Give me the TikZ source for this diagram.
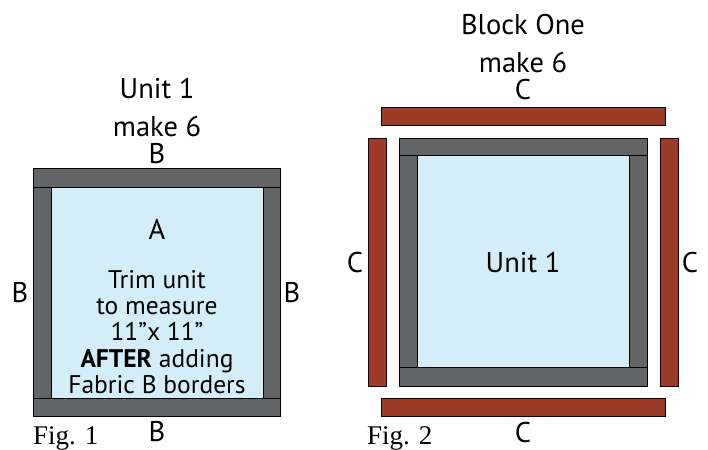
\documentclass[tikz,border=0pt]{standalone}
\usepackage{fontspec}
\setmainfont{PT Sans}
\newfontfamily\figfont{Liberation Serif}
\definecolor{fabricgrey}{RGB}{99,100,102}
\definecolor{fabricblue}{RGB}{212,238,249}
\definecolor{fabricrust}{RGB}{156,59,38}

\begin{document}
\begin{tikzpicture}[x=1pt, y=-1pt,
    patchA/.style={fill=fabricblue, draw=black, line width=0.9pt},
    patchB/.style={fill=fabricgrey, draw=black, line width=0.9pt},
    patchC/.style={fill=fabricrust, draw=black, line width=0.9pt},
    lbl/.style={font=\fontsize{28.5}{30}\selectfont, anchor=base, inner sep=0pt},
    note/.style={font=\fontsize{25.5}{26.3}\selectfont, align=center, inner sep=0pt},
    figlbl/.style={font=\figfont\fontsize{27}{30}\selectfont, anchor=base west, inner sep=0pt}]
    \useasboundingbox (0,0) rectangle (708,449);

    % Unit 1: centre square with B borders
    \fill[patchA] (51,187) rectangle (263,398);
    \draw[patchB] (33,168) rectangle (280,187);
    \draw[patchB] (33,398) rectangle (280,416);
    \draw[patchB] (33,187) rectangle (51,398);
    \draw[patchB] (263,187) rectangle (280,398);
    \draw[black, line width=0.9pt] (51,187) rectangle (263,398);

    \node[lbl] (unitT) at (157,99) {Unit 1};
    \node[lbl] (unitM) at (157,136) {make 6};
    \node[lbl] (bTop) at (157,164) {B};
    \node[lbl] (bLeft) at (20,302) {B};
    \node[lbl] (bRight) at (292,302) {B};
    \node[lbl] (bBot) at (157,441) {B};
    \node[lbl] (fabA) at (157,239) {A};
    \node[note] (trim) at (157,332) {Trim unit\\to measure\\11\textquotedblright x 11\textquotedblright\\\textbf{AFTER} adding\\Fabric B borders};
    \node[figlbl] (fig1) at (33,444) {Fig. 1};

    % Block One: Unit 1 with C strips
    \fill[patchA] (417,155) rectangle (629,367);
    \draw[patchB] (399,138) rectangle (647,155);
    \draw[patchB] (399,367) rectangle (647,386);
    \draw[patchB] (399,155) rectangle (417,367);
    \draw[patchB] (629,155) rectangle (647,367);
    \draw[black, line width=0.9pt] (417,155) rectangle (629,367);

    \draw[patchC] (381,107) rectangle (665,125);
    \draw[patchC] (381,398) rectangle (665,416);
    \draw[patchC] (368,138) rectangle (386,386);
    \draw[patchC] (660,138) rectangle (678,386);

    \node[lbl] (blockT) at (523,35) {Block One};
    \node[lbl] (blockM) at (523,73) {make 6};
    \node[lbl] (cTop) at (523,100) {C};
    \node[lbl] (cLeft) at (355,272) {C};
    \node[lbl] (cRight) at (690,272) {C};
    \node[lbl] (cBot) at (523,442) {C};
    \node[lbl] (unitA) at (523,272) {Unit 1};
    \node[figlbl] (fig2) at (367,444) {Fig. 2};
\end{tikzpicture}
\end{document}
